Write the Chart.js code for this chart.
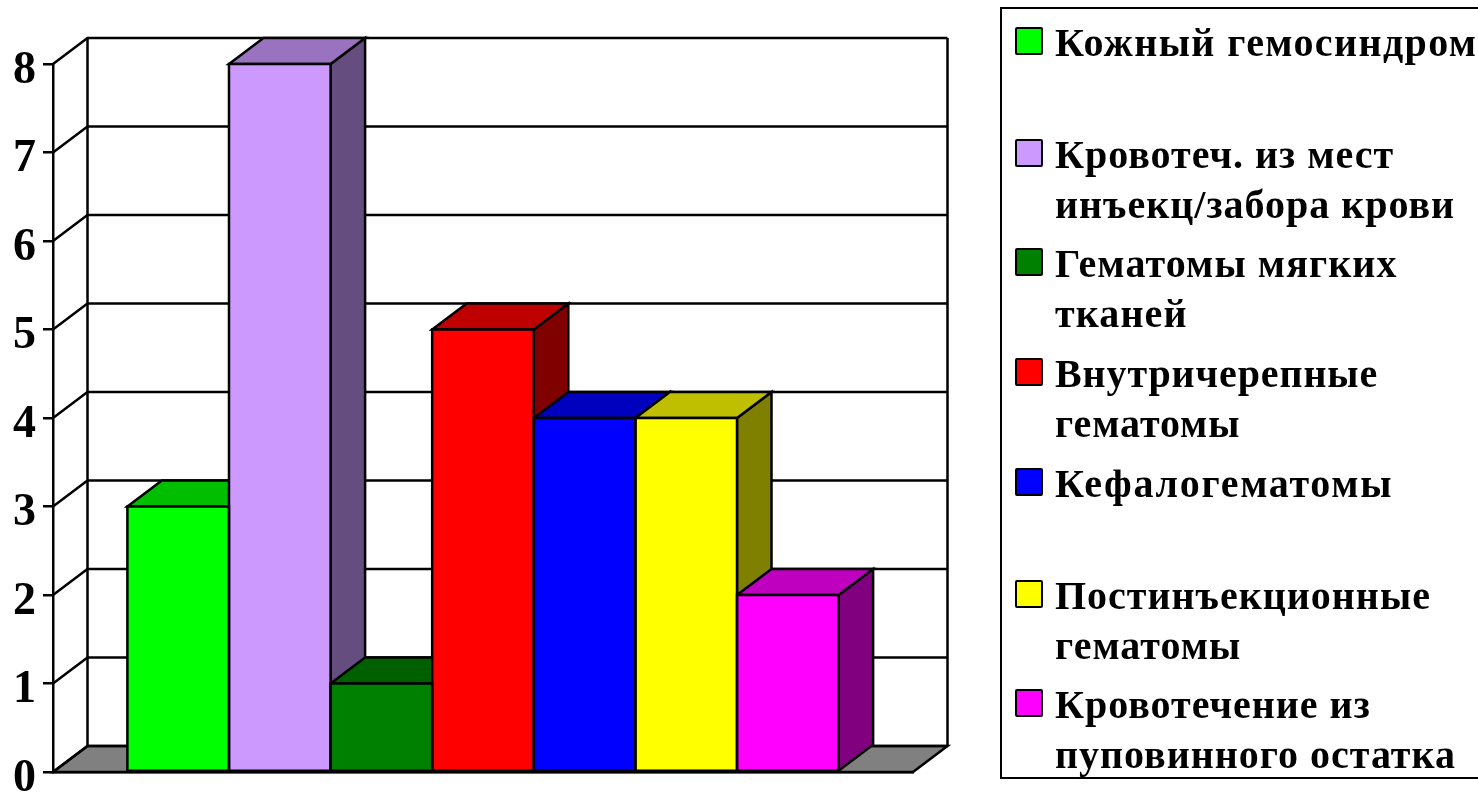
<!DOCTYPE html>
<html>
<head>
<meta charset="utf-8">
<script src="https://cdn.jsdelivr.net/npm/chart.js@4"></script>
<style>
  html, body { margin: 0; padding: 0; background: #fff; overflow: hidden; }
  #wrap { position: relative; width: 1478px; height: 793px; }
  #legend {
    position: absolute; left: 1000px; top: 7px; width: 490px; height: 772px;
    border: 2.5px solid #000; box-sizing: border-box;
    font: bold 40px "Liberation Serif", serif; color: #000;
  }
  .item { position: absolute; left: 53px; white-space: nowrap; line-height: 50px; }
  .swatch {
    position: absolute; left: -40px; top: 9px; width: 28px; height: 28px;
    box-sizing: border-box; border: 2.5px solid #000; border-radius: 2px;
  }
</style>
</head>
<body>
<div id="wrap">
  <canvas id="chart" width="1478" height="793"></canvas>
  <div id="legend"></div>
</div>
<script>
const seriesNames = [
  ['Кожный гемосиндром'],
  ['Кровотеч. из мест', 'инъекц/забора крови'],
  ['Гематомы мягких', 'тканей'],
  ['Внутричерепные', 'гематомы'],
  ['Кефалогематомы'],
  ['Постинъекционные', 'гематомы'],
  ['Кровотечение из', 'пуповинного остатка']
];
const seriesValues = [3, 8, 1, 5, 4, 4, 2];
const seriesColors = ['#00ff00', '#cc99ff', '#008000', '#ff0000', '#0000ff', '#ffff00', '#ff00ff'];
const yTicks = [0, 1, 2, 3, 4, 5, 6, 7, 8];

// legend rows, top of each entry inside the box
const legendTops = [9, 121, 230, 340, 450, 562, 671];
const legendSpacing = [1.4, 1, 1.1, 0.9, 1.7, 1, 1];

// how far the back wall sits behind the front plane
const depthX = 34.5;
const depthY = 26;
const lineW = 2.5;

function shade(hex, k) {
  const n = parseInt(hex.slice(1), 16);
  const r = Math.round((n >> 16 & 255) * k);
  const g = Math.round((n >> 8 & 255) * k);
  const b = Math.round((n & 255) * k);
  return 'rgb(' + r + ',' + g + ',' + b + ')';
}

function poly(ctx, pts, fill) {
  ctx.beginPath();
  ctx.moveTo(pts[0][0], pts[0][1]);
  for (let i = 1; i < pts.length; i++) ctx.lineTo(pts[i][0], pts[i][1]);
  ctx.closePath();
  if (fill) {
    ctx.fillStyle = fill;
    ctx.fill();
  }
  ctx.stroke();
}

const box3d = {
  id: 'box3d',
  beforeDatasetsDraw(chart) {
    const ctx = chart.ctx;
    const a = chart.chartArea;
    const y = chart.scales.y;
    ctx.save();
    ctx.strokeStyle = '#000';
    ctx.lineWidth = lineW;

    // floor
    poly(ctx, [
      [a.left, a.bottom], [a.left + depthX, a.bottom - depthY],
      [a.right + depthX, a.bottom - depthY], [a.right, a.bottom]
    ], '#808080');

    // back wall, grid lines and the slanted bits on the left wall
    yTicks.forEach(function(t) {
      const py = y.getPixelForValue(t);
      ctx.beginPath();
      ctx.moveTo(a.left, py);
      ctx.lineTo(a.left + depthX, py - depthY);
      ctx.lineTo(a.right + depthX, py - depthY);
      ctx.stroke();
    });
    ctx.beginPath();
    ctx.moveTo(a.left + depthX, a.top - depthY);
    ctx.lineTo(a.left + depthX, a.bottom - depthY);
    ctx.moveTo(a.right + depthX, a.top - depthY);
    ctx.lineTo(a.right + depthX, a.bottom - depthY);
    ctx.stroke();

    // side and top of every bar, left to right; the fronts come after from chart.js
    seriesValues.forEach(function(v, i) {
      const bar = chart.getDatasetMeta(i).data[0];
      const l = bar.x - bar.width / 2;
      const r = bar.x + bar.width / 2;
      poly(ctx, [
        [r, bar.y], [r + depthX, bar.y - depthY],
        [r + depthX, bar.base - depthY], [r, bar.base]
      ], shade(seriesColors[i], 0.5));
      poly(ctx, [
        [l, bar.y], [l + depthX, bar.y - depthY],
        [r + depthX, bar.y - depthY], [r, bar.y]
      ], shade(seriesColors[i], 0.75));
    });
    ctx.restore();
  },
  afterDatasetsDraw(chart) {
    // outlines centred on the bar edges, chart.js would inset them and double them up
    const ctx = chart.ctx;
    ctx.save();
    ctx.strokeStyle = '#000';
    ctx.lineWidth = lineW;
    seriesValues.forEach(function(v, i) {
      const bar = chart.getDatasetMeta(i).data[0];
      ctx.strokeRect(bar.x - bar.width / 2, bar.y, bar.width, bar.base - bar.y);
    });
    ctx.restore();
  }
};

new Chart(document.getElementById('chart'), {
  type: 'bar',
  data: {
    labels: [''],
    datasets: seriesNames.map(function(name, i) {
      return {
        label: name.join(' '),
        data: [seriesValues[i]],
        backgroundColor: seriesColors[i],
        borderWidth: 0
      };
    })
  },
  options: {
    responsive: false,
    animation: false,
    layout: { padding: { top: 64, right: 565, bottom: 21, left: 0 } },
    datasets: { bar: { categoryPercentage: 0.827, barPercentage: 1 } },
    plugins: { legend: { display: false }, tooltip: { enabled: false } },
    scales: {
      x: {
        grid: { drawOnChartArea: false, drawTicks: false },
        border: { color: '#000', width: lineW },
        ticks: { display: false },
        afterFit: function(scale) { scale.height = 0; }
      },
      y: {
        min: 0,
        max: 8,
        // the big tick labels hang over the plot ends, don't let them squash it
        afterFit: function(scale) {
          scale.width = 53;
          scale.paddingTop = 0;
          scale.paddingBottom = 0;
        },
        afterBuildTicks: function(scale) { scale.ticks = yTicks.map(function(v) { return { value: v }; }); },
        grid: { drawOnChartArea: false, color: '#000', lineWidth: lineW, tickLength: 10 },
        border: { color: '#000', width: lineW },
        ticks: {
          color: '#000',
          padding: 7,
          labelOffset: 7,
          font: { family: '"Liberation Serif", serif', size: 46, weight: 'bold' }
        }
      }
    }
  },
  plugins: [box3d]
});

// legend is plain html, same order as the bars
const legendEl = document.getElementById('legend');
seriesNames.forEach(function(lines, i) {
  const item = document.createElement('div');
  item.className = 'item';
  item.style.top = legendTops[i] + 'px';
  item.style.letterSpacing = legendSpacing[i] + 'px';
  const swatch = document.createElement('span');
  swatch.className = 'swatch';
  swatch.style.background = seriesColors[i];
  item.appendChild(swatch);
  lines.forEach(function(line) {
    const row = document.createElement('div');
    row.textContent = line;
    item.appendChild(row);
  });
  legendEl.appendChild(item);
});
</script>
</body>
</html>
